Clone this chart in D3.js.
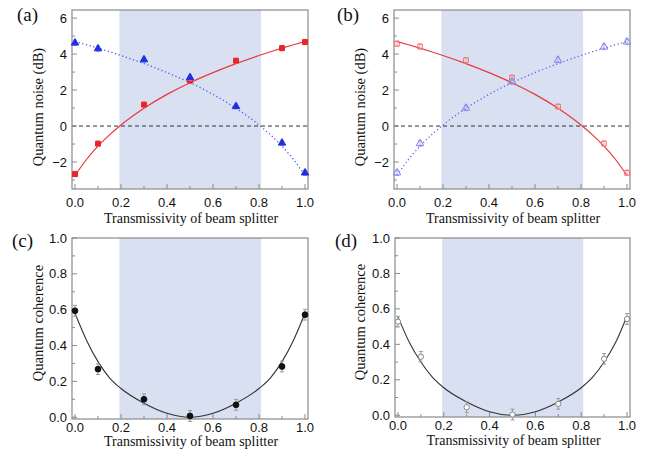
<!DOCTYPE html>
<head>
  <meta charset="utf-8">
  <script src="https://d3js.org/d3.v7.min.js"></script>
  <style>
    body{ margin: 0; background: #fff; }
    text.tickLabel{
      font-family: "Liberation Sans", Arial, sans-serif;
      font-size: 13px;
      fill: #111;
    }
    text.axisTitle{
      font-family: "Liberation Serif", "Times New Roman", serif;
      font-size: 14px;
      fill: #111;
    }
    text.panelLabel{
      font-family: "Liberation Serif", "Times New Roman", serif;
      font-size: 19px;
      fill: #111;
    }
  </style>
</head>

<body>
  <script>
    var width = 649;
    var height = 458;

    // measured transmissivities
    const T = [0, 0.1, 0.3, 0.5, 0.7, 0.9, 1.0];

    // quantum noise (dB) (a) and (b)
    const noiseA_red  = [-2.67, -0.98, 1.19, 2.52, 3.63, 4.33, 4.67];
    const noiseA_blue = [4.62, 4.30, 3.69, 2.70, 1.09, -0.94, -2.60];
    const noiseB_red  = [4.58, 4.42, 3.66, 2.69, 1.08, -0.97, -2.60];
    const noiseB_blue = [-2.60, -0.97, 1.00, 2.47, 3.67, 4.40, 4.68];
    const noiseErr    = [0.15, 0.15, 0.15, 0.15, 0.15, 0.15, 0.15];

    // quantum coherence (c) and (d)
    const cohC = [0.594, 0.268, 0.100, 0.007, 0.069, 0.283, 0.572];
    const cohD = [0.528, 0.330, 0.045, 0.004, 0.064, 0.318, 0.543];
    const cohErr = [0.03, 0.03, 0.03, 0.03, 0.03, 0.03, 0.03];

    // theory curves
    const Tcurve     = [0, 0.05, 0.1, 0.15, 0.2, 0.3, 0.4, 0.5, 0.6, 0.7, 0.8, 0.85, 0.9, 0.95, 1.0];
    const noiseRise  = [-2.75, -1.86, -1.12, -0.49, 0.06, 0.99, 1.76, 2.41, 2.97, 3.47, 3.92, 4.13, 4.33, 4.52, 4.70];
    const noiseFall  = [4.70, 4.52, 4.33, 4.13, 3.92, 3.47, 2.97, 2.41, 1.76, 0.99, 0.06, -0.49, -1.12, -1.86, -2.75];
    const cohCurveC  = [0.58, 0.43, 0.31, 0.22, 0.16, 0.078, 0.022, 0.0, 0.022, 0.078, 0.16, 0.22, 0.31, 0.43, 0.58];
    const cohCurveD  = [0.555, 0.41, 0.30, 0.215, 0.155, 0.075, 0.02, 0.0, 0.02, 0.075, 0.155, 0.215, 0.30, 0.41, 0.56];

    // shaded window on the T axis
    const shadeRange = [0.193, 0.809];

    const xTicks = [0, 0.2, 0.4, 0.6, 0.8, 1.0];
    const xMinor = [0.1, 0.3, 0.5, 0.7, 0.9];
    const noiseTicks = [-2, 0, 2, 4, 6];
    const noiseMinor = [-3, -1, 1, 3, 5];
    const cohTicks = [0, 0.2, 0.4, 0.6, 0.8, 1.0];
    const cohMinor = [0.1, 0.3, 0.5, 0.7, 0.9];

    var svg = d3.select("body").append("svg")
      .attr("width", width)
      .attr("height", height);

    const frameColor = "#8a8a8a";

    function drawPanel(p) {
      let x = d3.scaleLinear().domain([-0.013, 1.013]).range([p.left, p.right]);
      let y = d3.scaleLinear().domain(p.yDomain).range([p.bottom, p.top]);
      let g = svg.append("g");

      // shaded band
      g.append("rect")
        .attr("x", x(shadeRange[0]))
        .attr("y", p.top)
        .attr("width", x(shadeRange[1]) - x(shadeRange[0]))
        .attr("height", p.bottom - p.top)
        .style("fill", "#d8e0f1");

      // zero line
      if (p.zeroLine) {
        g.append("line")
          .attr("x1", p.left).attr("x2", p.right)
          .attr("y1", y(0)).attr("y2", y(0))
          .style("stroke", "#333")
          .style("stroke-width", 1)
          .style("stroke-dasharray", "4,3");
      }

      // frame
      g.append("rect")
        .attr("x", p.left).attr("y", p.top)
        .attr("width", p.right - p.left)
        .attr("height", p.bottom - p.top)
        .style("fill", "none")
        .style("stroke", frameColor)
        .style("stroke-width", 1.2);

      // x ticks (inward)
      g.selectAll("line.xt").data(xTicks).enter().append("line")
        .attr("x1", d => x(d)).attr("x2", d => x(d))
        .attr("y1", p.bottom).attr("y2", p.bottom - 5)
        .style("stroke", frameColor);
      g.selectAll("line.xm").data(xMinor).enter().append("line")
        .attr("x1", d => x(d)).attr("x2", d => x(d))
        .attr("y1", p.bottom).attr("y2", p.bottom - 3)
        .style("stroke", frameColor);
      g.selectAll("text.xl").data(xTicks).enter().append("text")
        .attr("class", "tickLabel")
        .attr("x", d => x(d))
        .attr("y", p.bottom + p.xLabelGap)
        .style("text-anchor", "middle")
        .text(d3.format(".1f"));

      // y ticks
      g.selectAll("line.yt").data(p.yTicks).enter().append("line")
        .attr("x1", p.left).attr("x2", p.left + 5)
        .attr("y1", d => y(d)).attr("y2", d => y(d))
        .style("stroke", frameColor);
      g.selectAll("line.ym").data(p.yMinor).enter().append("line")
        .attr("x1", p.left).attr("x2", p.left + 3)
        .attr("y1", d => y(d)).attr("y2", d => y(d))
        .style("stroke", frameColor);
      g.selectAll("text.yl").data(p.yTicks).enter().append("text")
        .attr("class", "tickLabel")
        .attr("x", p.left - 5)
        .attr("y", d => y(d) + 4.5)
        .style("text-anchor", "end")
        .text(p.yFormat);

      // titles
      g.append("text")
        .attr("class", "axisTitle")
        .attr("x", (p.left + p.right) / 2 + 1)
        .attr("y", p.xTitleY)
        .style("text-anchor", "middle")
        .text("Transmissivity of beam splitter");
      g.append("text")
        .attr("class", "axisTitle")
        .attr("transform", `translate(${p.yTitleX},${p.yTitleY}) rotate(-90)`)
        .style("text-anchor", "middle")
        .style("font-size", "14.5px")
        .text(p.yTitle);
      g.append("text")
        .attr("class", "panelLabel")
        .attr("x", p.labelX).attr("y", p.labelY)
        .text(p.label);

      // curves
      p.curves.forEach(c => {
        g.append("path")
          .datum(Tcurve.map((t, i) => [t, c.values[i]]))
          .attr("d", d3.line().x(d => x(d[0])).y(d => y(d[1])).curve(d3.curveMonotoneX))
          .style("fill", "none")
          .style("stroke", c.color)
          .style("stroke-width", c.width || 1.2)
          .style("stroke-dasharray", c.dash || null);
      });

      // points with error bars
      p.series.forEach(s => {
        let pts = T.map((t, i) => ({t: t, v: s.values[i], e: s.err[i]}));
        g.selectAll(null).data(pts).enter().append("line")
          .attr("x1", d => x(d.t)).attr("x2", d => x(d.t))
          .attr("y1", d => y(d.v - d.e)).attr("y2", d => y(d.v + d.e))
          .style("stroke", s.errColor).style("stroke-width", 1);
        ["-", "+"].forEach(sg => {
          g.selectAll(null).data(pts).enter().append("line")
            .attr("x1", d => x(d.t) - 2).attr("x2", d => x(d.t) + 2)
            .attr("y1", d => y(sg == "-" ? d.v - d.e : d.v + d.e))
            .attr("y2", d => y(sg == "-" ? d.v - d.e : d.v + d.e))
            .style("stroke", s.errColor).style("stroke-width", 1);
        });
        g.selectAll(null).data(pts).enter().append("path")
          .attr("transform", d => `translate(${x(d.t)},${y(d.v)})`)
          .attr("d", d3.symbol().type(s.symbol).size(s.size))
          .style("fill", s.fill)
          .style("stroke", s.stroke)
          .style("stroke-width", s.strokeWidth || 1);
      });
    }

    const red = "#e8262b", blue = "#1f2fe0";

    drawPanel({
      label: "(a)", labelX: 17, labelY: 21,
      left: 72, right: 308, top: 10, bottom: 189,
      yDomain: [-3.5, 6.45], yTicks: noiseTicks, yMinor: noiseMinor, yFormat: d3.format("d"),
      xLabelGap: 18, xTitleY: 223, yTitleX: 43, yTitleY: 107,
      yTitle: "Quantum noise (dB)", zeroLine: true,
      curves: [
        {values: noiseRise, color: "#e8393c"},
        {values: noiseFall, color: "#4a55ee", dash: "1.2,2.6", width: 1.3}
      ],
      series: [
        {values: noiseA_red, err: noiseErr, symbol: d3.symbolSquare, size: 24, fill: red, stroke: red, errColor: "#f3a0a0"},
        {values: noiseA_blue, err: noiseErr, symbol: d3.symbolTriangle, size: 24, fill: blue, stroke: blue, errColor: "#a0a8f0"}
      ]
    });

    drawPanel({
      label: "(b)", labelX: 337, labelY: 21,
      left: 394, right: 630, top: 10, bottom: 189,
      yDomain: [-3.5, 6.45], yTicks: noiseTicks, yMinor: noiseMinor, yFormat: d3.format("d"),
      xLabelGap: 18, xTitleY: 223, yTitleX: 365, yTitleY: 107,
      yTitle: "Quantum noise (dB)", zeroLine: true,
      curves: [
        {values: noiseFall, color: "#e8393c"},
        {values: noiseRise, color: "#5a5ff0", dash: "1.2,2.6", width: 1.3}
      ],
      series: [
        {values: noiseB_red, err: noiseErr, symbol: d3.symbolSquare, size: 22, fill: "none", stroke: "#f07070", errColor: "#f5a8a8"},
        {values: noiseB_blue, err: noiseErr, symbol: d3.symbolTriangle, size: 24, fill: "none", stroke: "#7f84e6", errColor: "#a8acf0"}
      ]
    });

    drawPanel({
      label: "(c)", labelX: 12, labelY: 247,
      left: 72, right: 308, top: 238, bottom: 419,
      yDomain: [-0.01, 1.0], yTicks: cohTicks, yMinor: cohMinor, yFormat: d3.format(".1f"),
      xLabelGap: 13, xTitleY: 446, yTitleX: 43, yTitleY: 323,
      yTitle: "Quantum coherence", zeroLine: false,
      curves: [
        {values: cohCurveC, color: "#333", width: 1.1}
      ],
      series: [
        {values: cohC, err: cohErr, symbol: d3.symbolCircle, size: 26, fill: "#111", stroke: "#111", errColor: "#999"}
      ]
    });

    drawPanel({
      label: "(d)", labelX: 335, labelY: 247,
      left: 395, right: 630, top: 238, bottom: 417,
      yDomain: [-0.01, 1.0], yTicks: cohTicks, yMinor: cohMinor, yFormat: d3.format(".1f"),
      xLabelGap: 13, xTitleY: 445, yTitleX: 365, yTitleY: 322,
      yTitle: "Quantum coherence", zeroLine: false,
      curves: [
        {values: cohCurveD, color: "#333", width: 1.1}
      ],
      series: [
        {values: cohD, err: cohErr, symbol: d3.symbolCircle, size: 22, fill: "#fff", stroke: "#888", errColor: "#999"}
      ]
    });
  </script>
</body>
